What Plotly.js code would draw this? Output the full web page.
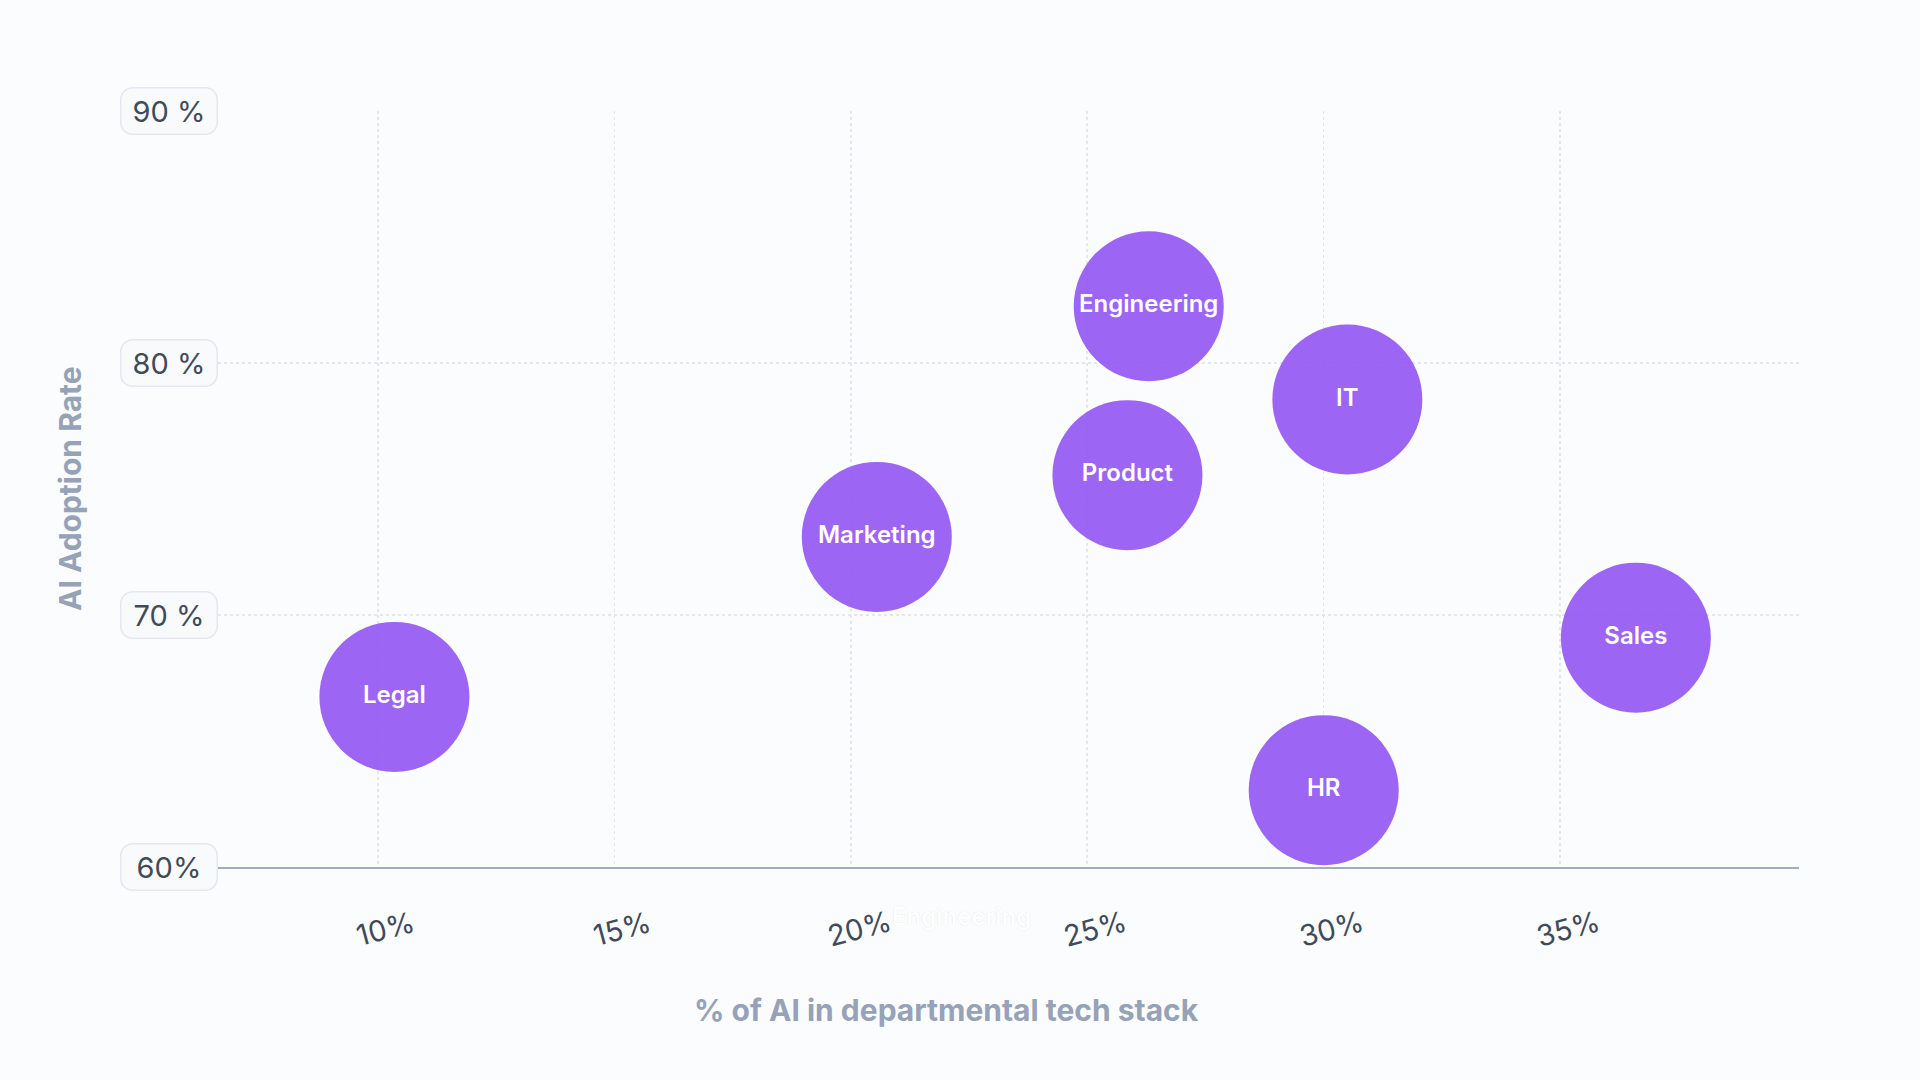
<!DOCTYPE html>
<html>
<head>
<meta charset="utf-8">
<script src="https://cdn.plot.ly/plotly-3.0.1.min.js"></script>
<style>
  html, body { margin: 0; padding: 0; background: #fbfcfd; }
  #chart { width: 1920px; height: 1080px; }
</style>
</head>
<body>
<div id="chart"></div>
<script>
const departments = ['Legal', 'Marketing', 'Product', 'Engineering', 'IT', 'HR', 'Sales']
const aiInStack = [10.35, 20.55, 25.85, 26.3, 30.5, 30.0, 36.6]
const adoptionRate = [66.75, 73.1, 75.55, 82.25, 78.55, 63.05, 69.1]

const xTickVals = [10, 15, 20, 25, 30, 35]
const xTickText = ['10%', '15%', '20%', '25%', '30%', '35%']
const yTickVals = [90, 80, 70, 60]
const yTickText = ['90 %', '80 %', '70 %', '60%']

const tickFont = { family: 'Inter, sans-serif', size: 29, color: '#414a59', weight: 400 }
const titleFont = { family: 'Inter, sans-serif', size: 30, color: '#96a2b7', weight: 700 }

const trace = {
    x: aiInStack,
    y: adoptionRate,
    text: departments,
    type: 'scatter',
    mode: 'markers+text',
    textposition: 'middle center',
    textfont: { family: 'Inter, sans-serif', size: 24, color: '#ffffff', weight: 600 },
    marker: { size: 150, color: 'rgba(148,88,242,0.92)', line: { width: 0 } },
    cliponaxis: false,
    hoverinfo: 'skip',
}

// y tick labels sit in rounded boxes, so they are drawn as annotations
const yTickNotes = yTickVals.map((v, i) => ({
    x: 0, xref: 'paper', xanchor: 'center', xshift: -49,
    y: v, yref: 'y', yanchor: 'middle',
    text: yTickText[i],
    showarrow: false,
    font: tickFont,
    width: 85,
    bgcolor: '#f8fafc',
    bordercolor: '#e3e7ee',
    borderwidth: 1.5,
    borderpad: 5,
}))

const xTickNotes = xTickVals.map((v, i) => ({
    x: v, xref: 'x', xanchor: 'center', xshift: 8,
    y: 0, yref: 'paper', yanchor: 'middle', yshift: -61,
    text: xTickText[i],
    textangle: -15,
    showarrow: false,
    font: tickFont,
}))

const titleNotes = [
    {
        x: 0.4605, xref: 'paper', xanchor: 'center',
        y: 0, yref: 'paper', yanchor: 'middle', yshift: -143,
        text: '% of AI in departmental tech stack',
        showarrow: false, font: titleFont,
    },
    {
        x: 0, xref: 'paper', xanchor: 'center', xshift: -148,
        y: 0.5, yref: 'paper', yanchor: 'middle',
        text: 'AI Adoption Rate', textangle: -90,
        showarrow: false, font: titleFont,
    },
    // faint leftover label under the axis
    {
        x: 0.4705, xref: 'paper', xanchor: 'center',
        y: 0, yref: 'paper', yanchor: 'middle', yshift: -49,
        text: 'Engineering',
        showarrow: false,
        font: { family: 'Inter, sans-serif', size: 24, color: '#ffffff', weight: 600, shadow: '0 0 1px rgba(60,70,90,0.18)' },
    },
]

const layout = {
    width: 1920,
    height: 1080,
    margin: { l: 218, r: 121, t: 111, b: 213 },
    paper_bgcolor: '#fbfcfd',
    plot_bgcolor: '#fbfcfd',
    showlegend: false,
    xaxis: {
        range: [6.62, 40.05],
        tickvals: xTickVals,
        showticklabels: false,
        ticks: '',
        showgrid: true,
        gridcolor: '#e2e6ee',
        griddash: 'dot',
        gridwidth: 1.5,
        zeroline: false,
        showline: true,
        linecolor: '#a3abbd',
        linewidth: 2,
    },
    yaxis: {
        range: [60, 90],
        tickvals: yTickVals,
        showticklabels: false,
        ticks: '',
        showgrid: true,
        gridcolor: '#e2e6ee',
        griddash: 'dot',
        gridwidth: 1.5,
        zeroline: false,
        showline: false,
    },
    annotations: [...yTickNotes, ...xTickNotes, ...titleNotes],
}

Plotly.newPlot('chart', [trace], layout, { displayModeBar: false, staticPlot: true }).then(() => {
    // round the corners of the y tick boxes
    const groups = document.querySelectorAll('#chart g.annotation')
    for (let i = 0; i < yTickNotes.length; i++) {
        const bg = groups[i] && groups[i].querySelector('rect.bg')
        if (bg) { bg.setAttribute('rx', 12); bg.setAttribute('ry', 12) }
    }
})
</script>
</body>
</html>
